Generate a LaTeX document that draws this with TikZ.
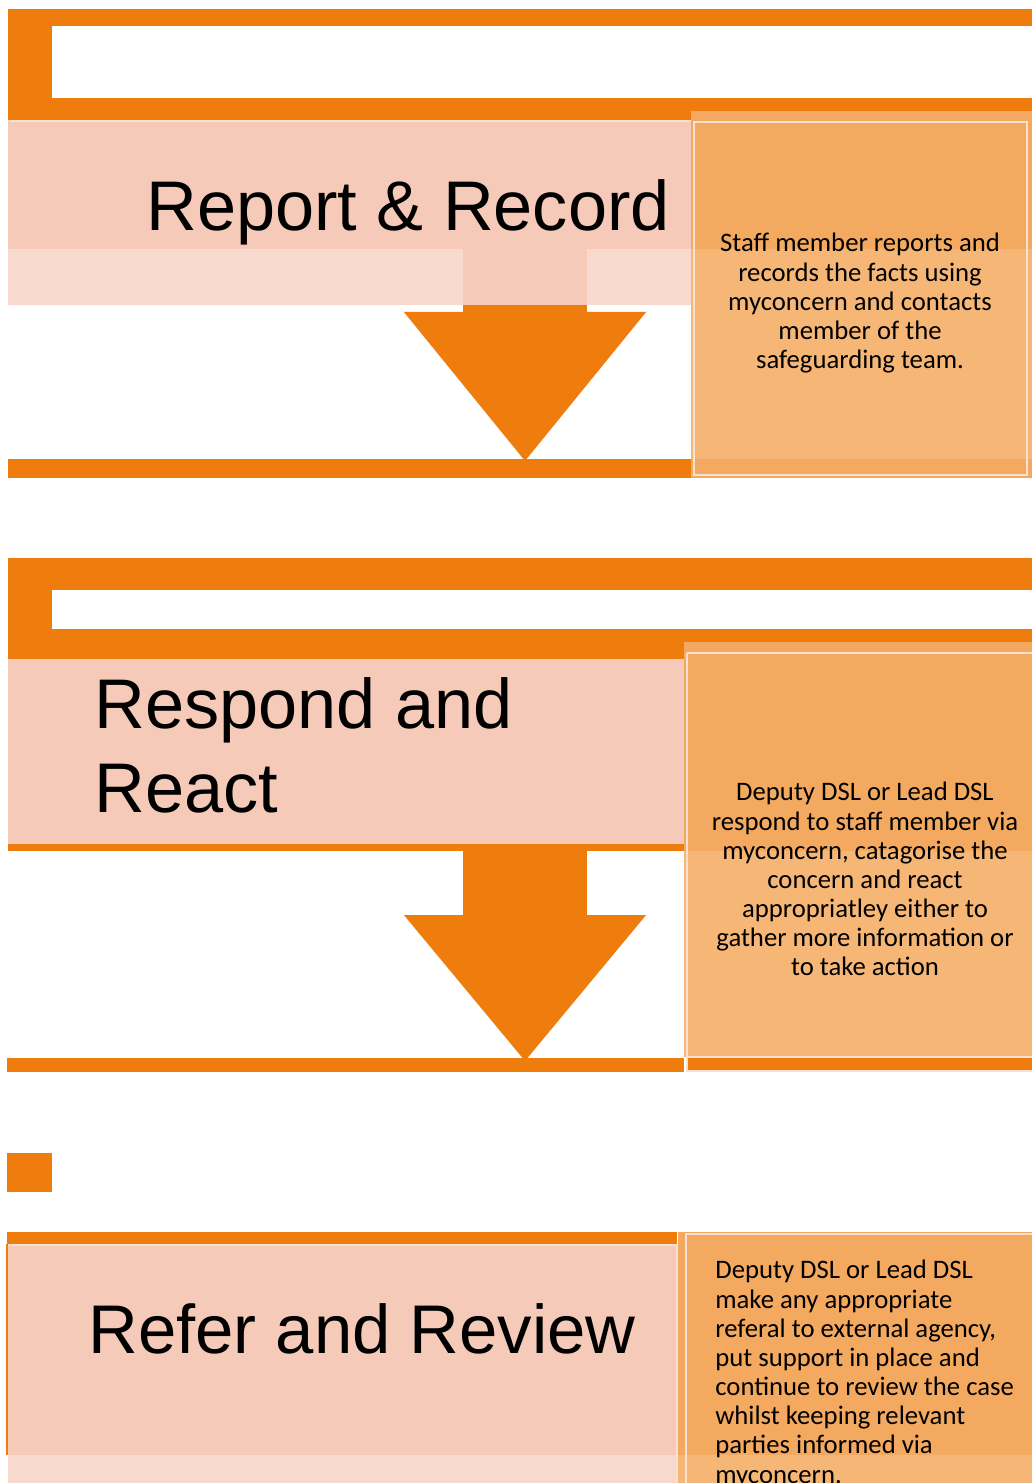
\documentclass[tikz,border=0pt]{standalone}
\usepackage{fontspec}
\setmainfont{Carlito}
\newfontfamily\titlefont{Liberation Sans}
\usetikzlibrary{positioning}
\definecolor{flow}{RGB}{238,125,13}
\definecolor{titlepink}{RGB}{245,202,184}
\definecolor{palepink}{RGB}{247,217,206}
\definecolor{boxdark}{RGB}{244,169,96}
\definecolor{boxlight}{RGB}{246,183,118}
\definecolor{edge}{RGB}{250,224,208}

\begin{document}
\begin{tikzpicture}[x=0.02cm, y=-0.02cm, title/.style = {font=\titlefont\fontsize{40}{47.6}\selectfont, anchor=base west, inner sep=0}, info/.style = {font=\fontsize{15.2}{16.6}\selectfont, inner sep=0, anchor=north}, rim/.style = {draw=edge, line width=1}]
        \useasboundingbox (0,0) rectangle (1032,1483);
        \fill[white] (0,0) rectangle (1032,1483);
        % report and record
        \fill[flow] (8,9) rectangle (1032,120);
        \fill[white] (52,26) rectangle (1032,98);
        \fill[titlepink] (8,120) rectangle (691,305);
        \fill[palepink] (8,249) rectangle (463,305);
        \fill[palepink] (587,249) rectangle (691,305);
        \draw[rim] (9,121) -- (691,121);
        \fill[flow] (463,305) rectangle (587,312);
        \fill[flow] (403,312) -- (647,312) -- (525,462) -- cycle;
        \draw[white, line width=0.6] (403,312) -- (525,462) -- (647,312);
        \fill[flow] (8,459) rectangle (691,478);
        \fill[boxdark] (691,111) rectangle (1032,249);
        \fill[boxlight] (691,249) rectangle (1032,459);
        \fill[boxdark] (691,459) rectangle (1032,478);
        \draw[rim] (694,122) rectangle (1027,475);
        \node[title] (record) at (146,231) {Report \& Record};
        \node[info, align=center] (recordinfo) at (860,233) {Staff member reports and\\records the facts using\\myconcern and contacts\\member of the\\safeguarding team.};
        % respond and react
        \fill[flow] (8,558) rectangle (1032,659);
        \fill[white] (52,590) rectangle (1032,629);
        \fill[titlepink] (8,659) rectangle (684,844);
        \fill[flow] (8,844) rectangle (684,851);
        \fill[flow] (463,851) rectangle (587,915);
        \fill[flow] (403,915) -- (647,915) -- (525,1062) -- cycle;
        \draw[white, line width=0.6] (403,915) -- (525,1062) -- (647,915);
        \fill[flow] (7,1058) rectangle (684,1072);
        \fill[boxdark] (684,642) rectangle (1032,851);
        \fill[boxlight] (684,851) rectangle (1032,1057);
        \fill[flow] (687,1058) rectangle (1032,1070);
        \draw[rim] (687,653) -- (1032,653) (687,653) -- (687,1071) -- (1032,1071) (687,1057) -- (1032,1057);
        \node[title] (respond) at (94,728) {Respond and};
        \node[title] (react) at (94,812) {React};
        \node[info, align=center] (respondinfo) at (865,782) {Deputy DSL or Lead DSL\\respond to staff member via\\myconcern, catagorise the\\concern and react\\appropriatley either to\\gather more information or\\to take action};
        % refer and review
        \fill[flow] (7,1153) rectangle (52,1192);
        \fill[flow] (7,1232) rectangle (677,1244);
        \fill[titlepink] (8,1244) rectangle (678,1455);
        \fill[palepink] (8,1455) rectangle (678,1483);
        \draw[rim] (9,1245) -- (677,1245) -- (677,1483);
        \draw[flow, line width=1] (7,1244) -- (7,1455);
        \fill[boxdark] (678,1232) rectangle (1032,1455);
        \fill[boxlight] (678,1455) rectangle (1032,1483);
        \draw[rim] (686,1483) -- (686,1234) -- (1032,1234);
        \node[title, font=\titlefont\fontsize{39.2}{47}\selectfont] (review) at (88,1353) {Refer and Review};
        \node[info, align=left, anchor=north west] (reviewinfo) at (715,1260) {Deputy DSL or Lead DSL\\make any appropriate\\referal to external agency,\\put support in place and\\continue to review the case\\whilst keeping relevant\\parties informed via\\myconcern.};
\end{tikzpicture}
\end{document}
